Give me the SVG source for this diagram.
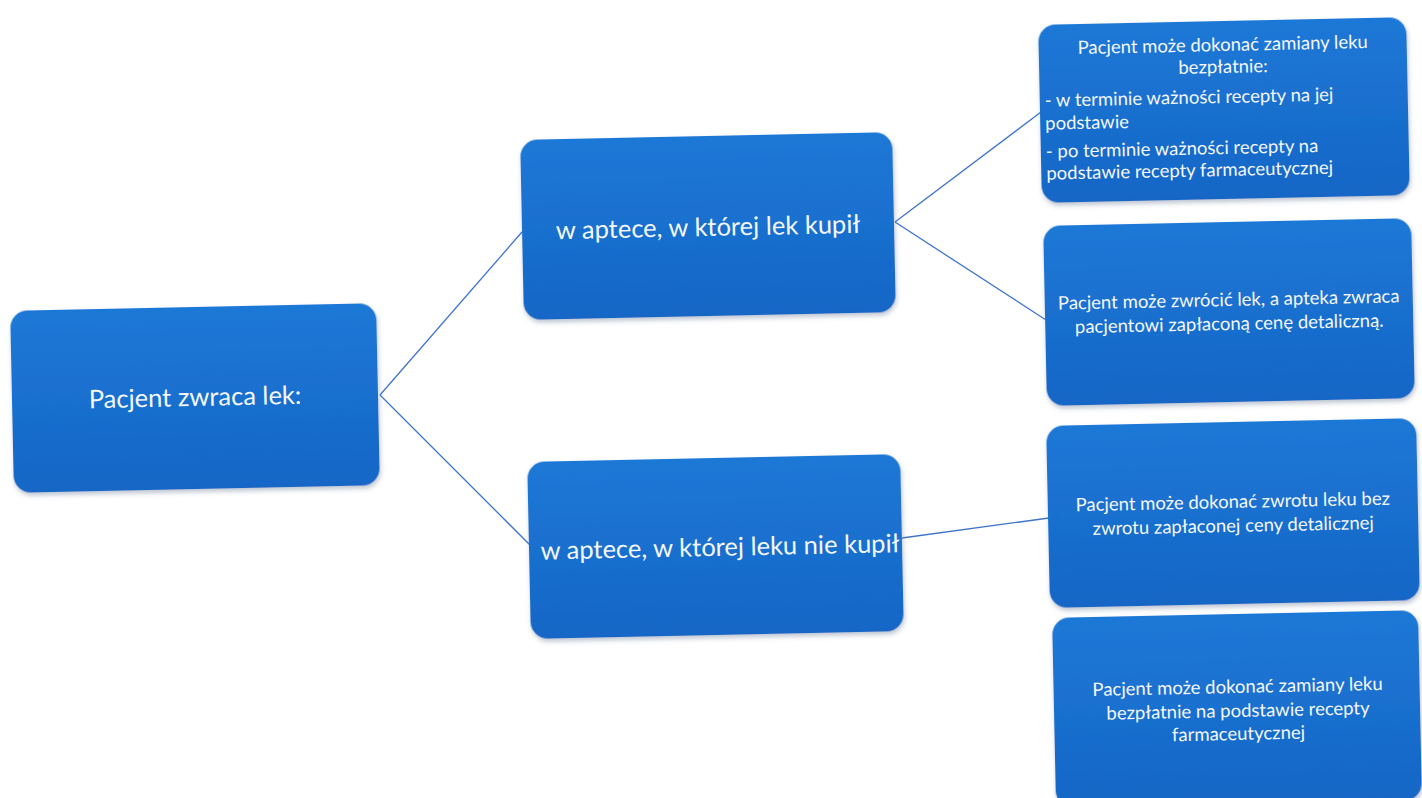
<svg xmlns="http://www.w3.org/2000/svg" width="1422" height="798" viewBox="0 0 1422 798">
<defs>
<linearGradient id="fill" x1="0" y1="0" x2="0" y2="1">
<stop offset="0" stop-color="#1d78d6"/>
<stop offset="1" stop-color="#1666c6"/>
</linearGradient>
<filter id="sh" x="-5%" y="-5%" width="110%" height="115%">
<feDropShadow dx="1" dy="3" stdDeviation="2.5" flood-color="#6a7f99" flood-opacity="0.45"/>
</filter>
</defs>
<style>
.box{fill:url(#fill);filter:url(#sh)}
.t{fill:#f4f7fc;font-family:Lato,"Open Sans","Liberation Sans",sans-serif}
.big{font-size:25.5px}
.sm{font-size:18.5px}
.mid{text-anchor:middle}
.conn line{stroke:#3f74cc;stroke-width:1.3;fill:none}
</style>
<rect width="1422" height="798" fill="#ffffff"/>
<g class="conn" id="connectors">
<line x1="380" y1="395" x2="522" y2="232"/>
<line x1="380" y1="395" x2="530" y2="545"/>
<line x1="895" y1="222" x2="1041" y2="112"/>
<line x1="895" y1="222" x2="1046" y2="320"/>
<line x1="902" y1="538" x2="1049" y2="518"/>
</g>
<g id="root" transform="rotate(-1.2 195 398)">
<rect class="box" x="12" y="307" width="366" height="182" rx="17"/>
<text class="t big mid" x="195" y="406">Pacjent zwraca lek:</text>
</g>
<g id="nodeA" transform="rotate(-1.2 708 226)">
<rect class="box" x="522" y="136" width="372" height="180" rx="17"/>
<text class="t big mid" x="708" y="236">w aptece, w której lek kupił</text>
</g>
<g id="nodeB" transform="rotate(-1.2 715 546)">
<rect class="box" x="529" y="458" width="373" height="177" rx="17"/>
<text class="t big mid" x="720" y="556">w aptece, w której leku nie kupił</text>
</g>
<g id="nodeC1" transform="rotate(-1.2 1224 110)">
<rect class="box" x="1040" y="21" width="368" height="178" rx="17"/>
<text class="t sm mid" x="1224" y="51">Pacjent może dokonać zamiany leku</text>
<text class="t sm mid" x="1224" y="73">bezpłatnie:</text>
<text class="t sm" x="1045" y="103">- w terminie ważności recepty na jej</text>
<text class="t sm" x="1045" y="126">podstawie</text>
<text class="t sm" x="1045" y="154">- po terminie ważności recepty na</text>
<text class="t sm" x="1045" y="176">podstawie recepty farmaceutycznej</text>
</g>
<g id="nodeC2" transform="rotate(-1.2 1229 312)">
<rect class="box" x="1045" y="222" width="368" height="180" rx="17"/>
<text class="t sm mid" x="1229" y="306">Pacjent może zwrócić lek, a apteka zwraca</text>
<text class="t sm mid" x="1229" y="330">pacjentowi zapłaconą cenę detaliczną.</text>
</g>
<g id="nodeC3" transform="rotate(-1.2 1233 513)">
<rect class="box" x="1048" y="422" width="370" height="182" rx="17"/>
<text class="t sm mid" x="1233" y="508">Pacjent może dokonać zwrotu leku bez</text>
<text class="t sm mid" x="1233" y="532">zwrotu zapłaconej ceny detalicznej</text>
</g>
<g id="nodeC4" transform="rotate(-1.2 1237 708)">
<rect class="box" x="1054" y="614" width="366" height="190" rx="17"/>
<text class="t sm mid" x="1238" y="693">Pacjent może dokonać zamiany leku</text>
<text class="t sm mid" x="1238" y="717">bezpłatnie na podstawie recepty</text>
<text class="t sm mid" x="1238" y="740">farmaceutycznej</text>
</g>
</svg>
